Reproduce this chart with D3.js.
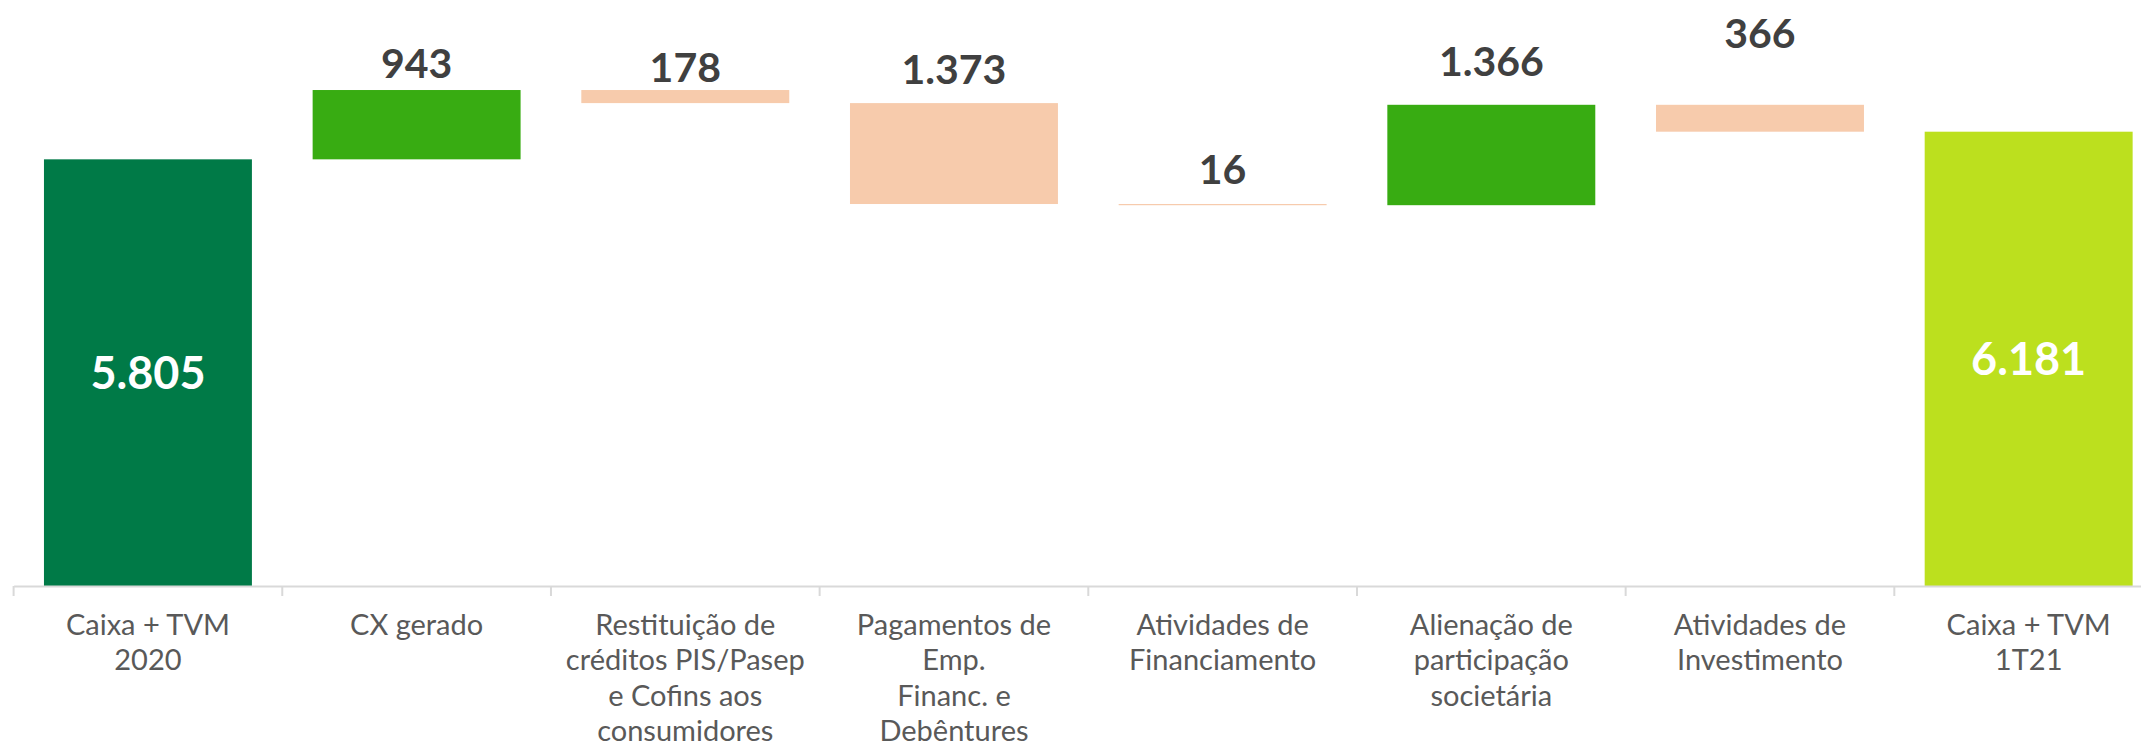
<!DOCTYPE html>
<html>
<head>
<meta charset="utf-8">
<script src="https://cdn.jsdelivr.net/npm/d3@7"></script>
<style>
    body { margin: 0; background: #fff; }
    text { font-family: "Century Gothic", "Lato", "Open Sans", sans-serif; }
</style>
</head>
<body>
<div id="chart"></div>
<script>
'use strict';

// categories, one line per entry in the label
const categories = [
    ["Caixa + TVM", "2020"],
    ["CX gerado"],
    ["Restituição de", "créditos PIS/Pasep", "e Cofins aos", "consumidores"],
    ["Pagamentos de", "Emp.", "Financ. e", "Debêntures"],
    ["Atividades de", "Financiamento"],
    ["Alienação de", "participação", "societária"],
    ["Atividades de", "Investimento"],
    ["Caixa + TVM", "1T21"]
];
// signed movements, totals at both ends
const values = [5805, 943, -178, -1373, -16, 1366, -366, 6181];
const kinds = ["total", "up", "down", "down", "down", "up", "down", "total"];
const valueLabels = ["5.805", "943", "178", "1.373", "16", "1.366", "366", "6.181"];

// layout
const W = 2141, H = 746;
const axisY = 586;
const labelGap = [0, 12, 8, 19, 20, 29, 57, 0];
const colors = { total0: "#007A47", up: "#38AC12", down: "#F7CBAC", total1: "#BCE01E" };

const svg = d3.select("#chart")
    .append("svg")
    .attr("width", W)
    .attr("height", H);

const idx = d3.range(categories.length);

const x = d3.scaleBand()
    .domain(idx)
    .range([13.6, 2163])
    .paddingInner(0.226)
    .paddingOuter(0.113);

const y = d3.scaleLinear()
    .domain([0, 8000])
    .range([axisY, -2]);

// running totals -> start / end per bar
let run = 0;
const bars = idx.map(function(i) {
    let start, end;
    if (kinds[i] === "total") {
        start = 0; end = values[i]; run = values[i];
    } else {
        start = run; end = run + values[i]; run = end;
    }
    return { i: i, start: start, end: end, kind: kinds[i] };
});

function barColor(d) {
    if (d.kind === "total") return d.i === 0 ? colors.total0 : colors.total1;
    return d.kind === "up" ? colors.up : colors.down;
}

svg.selectAll("rect.bar")
    .data(bars)
    .enter()
    .append("rect")
    .attr("class", "bar")
    .attr("x", function(d) { return x(d.i); })
    .attr("width", x.bandwidth())
    .attr("y", function(d) { return y(Math.max(d.start, d.end)); })
    .attr("height", function(d) { return Math.max(1.2, Math.abs(y(d.start) - y(d.end))); })
    .style("fill", barColor);

// axis line + labels
const axis = svg.append("g")
    .attr("transform", "translate(0," + axisY + ")")
    .call(d3.axisBottom(x).tickSize(0).tickSizeOuter(0).tickFormat(""));

axis.select(".domain")
    .attr("stroke", "#d9d9d9")
    .attr("stroke-width", 2);

// separators between categories
const step = x.step();
const edges = idx.map(function(i) { return x(i) - step * x.paddingInner() / 2; });
edges.push(edges[edges.length - 1] + step);
axis.selectAll("line.sep")
    .data(edges)
    .enter()
    .append("line")
    .attr("class", "sep")
    .attr("x1", function(d) { return d; })
    .attr("x2", function(d) { return d; })
    .attr("y1", 0)
    .attr("y2", 10)
    .attr("stroke", "#d9d9d9")
    .attr("stroke-width", 2);

axis.selectAll(".tick").each(function(i) {
    const t = d3.select(this).append("text")
        .attr("fill", "#595959")
        .attr("font-size", 29)
        .attr("text-anchor", "middle")
        .attr("y", 48.5);
    categories[i].forEach(function(line, k) {
        t.append("tspan")
            .attr("x", 0)
            .attr("dy", k === 0 ? 0 : 35.5)
            .text(line);
    });
});

// value labels
svg.selectAll("text.val")
    .data(bars)
    .enter()
    .append("text")
    .attr("class", "val")
    .attr("x", function(d) { return x(d.i) + x.bandwidth() / 2; })
    .attr("y", function(d) {
        if (d.kind === "total") return (y(d.end) + y(0)) / 2 + 16;
        return y(Math.max(d.start, d.end)) - labelGap[d.i];
    })
    .attr("text-anchor", "middle")
    .attr("font-weight", "bold")
    .attr("font-size", function(d) { return d.kind === "total" ? 45 : 41; })
    .attr("fill", function(d) { return d.kind === "total" ? "#ffffff" : "#404040"; })
    .text(function(d) { return valueLabels[d.i]; });
</script>
</body>
</html>
